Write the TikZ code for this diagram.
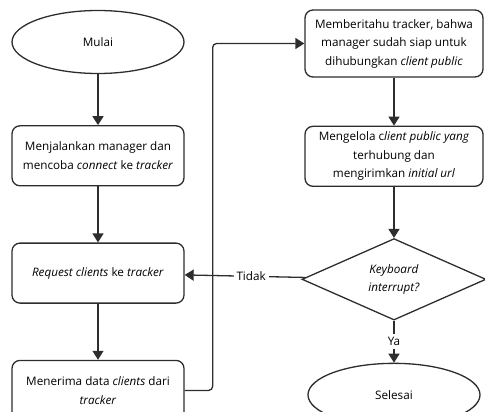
\documentclass[tikz,border=0pt]{standalone}
\usepackage{fontspec}
\setmainfont{Open Sans}
\usepackage{xcolor}
\usepackage{tikz}
\usetikzlibrary{shapes.geometric,positioning,arrows.meta}

\definecolor{garis}{RGB}{45,45,45}

\begin{document}
\begin{tikzpicture}[x=1pt, y=1pt, font=\fontsize{11.7}{18.5}\selectfont, line width=1.3pt,
    proses/.style={draw=garis, rounded corners=8pt, minimum width=172pt, minimum height=60pt, align=center, inner sep=3pt},
    terminal/.style={draw=garis, ellipse, minimum width=172pt, minimum height=63pt},
    keputusan/.style={draw=garis, diamond, minimum width=184pt, minimum height=70pt, align=center, inner sep=0pt},
    panah/.style={draw=garis, -{Triangle[length=9pt, width=11pt]}}]
        \useasboundingbox (0,0) rectangle (485,-412);

        % kolom kiri
        \node[terminal] (mulai) at (98,-42) {Mulai};
        \node[proses] (jalan) [below = 51pt of mulai] {Menjalankan manager dan\\mencoba \textit{connect} ke \textit{tracker}};
        \node[proses] (minta) [below = 56pt of jalan] {\textit{Request clients} ke \textit{tracker}};
        \node[proses] (terima) [below = 56pt of minta] {Menerima data \textit{clients} dari\\\textit{tracker}};

        % kolom kanan
        \node[proses, minimum width=178pt, minimum height=67pt] (beritahu) at (394,-43.5) {Memberitahu tracker, bahwa\\manager sudah siap untuk\\dihubungkan \textit{client public}};
        \node[proses, minimum width=178pt] (kelola) [below = 48pt of beritahu] {Mengelola c\textit{lient public yang}\\terhubung dan\\mengirimkan \textit{initial url}};
        \node[keputusan] (kb) [below = 51pt of kelola] {\textit{Keyboard}\\\textit{interrupt?}};
        \node[terminal] (selesai) [below = 42pt of kb] {Selesai};

        \path
        (mulai) edge [panah] (jalan)
            (jalan) edge [panah] (minta)
            (minta) edge [panah] (terima)
            (beritahu) edge [panah] (kelola)
            (kelola) edge [panah] (kb)
            (kb) edge [panah] node [fill=white, inner sep=3pt] {Ya} (selesai)
            (kb) edge [panah] node [fill=white, inner sep=3pt, pos=0.45] {Tidak} (minta);
        \draw[panah, rounded corners=4pt] (terima.east) -- ++(28,0) |- (beritahu.west);
    \end{tikzpicture}
\end{document}
